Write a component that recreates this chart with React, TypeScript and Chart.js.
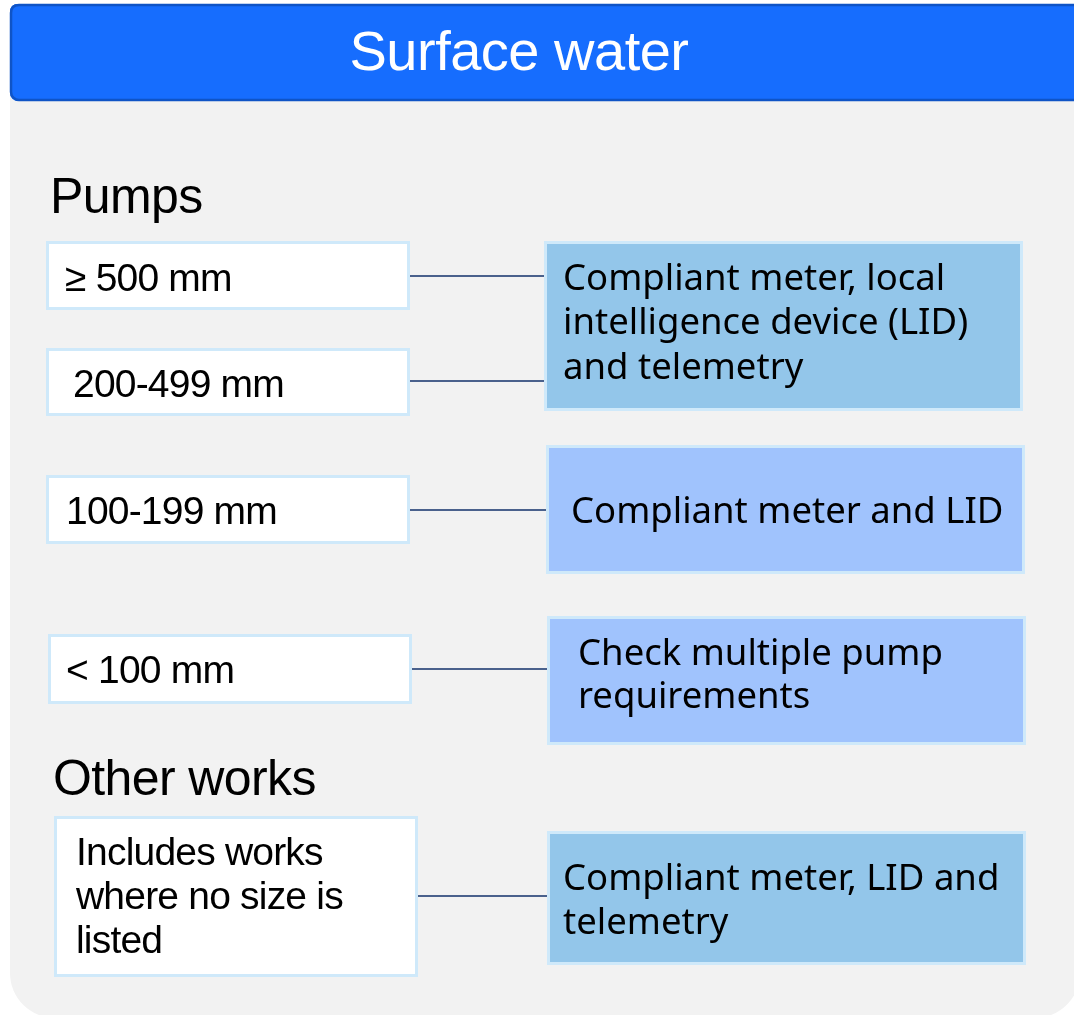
import React, { useEffect, useRef } from "react";
import { Chart, registerables } from "chart.js";

Chart.register(...registerables);

const W = 1074;
const H = 1015;

// ---- content ----
const title = "Surface water";
const sectionHeadings = ["Pumps", "Other works"];
const sizeClasses = [
  ["≥ 500 mm"],
  ["200-499 mm"],
  ["100-199 mm"],
  ["< 100 mm"],
  ["Includes works", "where no size is", "listed"],
];
const requirements = [
  ["Compliant meter, local", "intelligence device (LID)", "and telemetry"],
  ["Compliant meter and LID"],
  ["Check multiple pump", "requirements"],
  ["Compliant meter, LID and", "telemetry"],
];
const requirementKind = ["telemetry", "lid", "lid", "telemetry"];
// [size class index, requirement index]
const links = [
  [0, 0],
  [1, 0],
  [2, 1],
  [3, 2],
  [4, 3],
];

// ---- layout (pixel-space units on the hidden linear scales) ----
const headerBox = { x0: 10, y0: 4, x1: 1100, y1: 101, tx: 519, ty: 70 };
const panelBox = { x0: 10, y0: 50, x1: 1080, y1: 1018, r: 45 };
const headingPos = [
  { x: 50, y: 213 },
  { x: 53, y: 795 },
];
const sizeBoxes = [
  { x0: 46, y0: 241, x1: 410, y1: 310, tx: 65, ty: [291] },
  { x0: 46, y0: 348, x1: 410, y1: 416, tx: 73, ty: [397] },
  { x0: 46, y0: 475, x1: 410, y1: 544, tx: 66, ty: [524] },
  { x0: 48, y0: 634, x1: 412, y1: 704, tx: 66, ty: [683] },
  { x0: 54, y0: 816, x1: 418, y1: 977, tx: 76, ty: [865, 909, 953] },
];
const reqBoxes = [
  { x0: 544, y0: 241, x1: 1023, y1: 411, tx: 563, ty: [290, 334, 379] },
  { x0: 546, y0: 445, x1: 1025, y1: 574, tx: 571, ty: [523] },
  { x0: 547, y0: 616, x1: 1026, y1: 745, tx: 578, ty: [665, 708] },
  { x0: 547, y0: 831, x1: 1026, y1: 965, tx: 563, ty: [890, 934] },
];
const linkY = [276, 381, 510, 669, 896];

const COLORS = {
  panel: "#f2f2f2",
  header: "#166dfe",
  headerBorder: "#0f54c6",
  sizeFill: "#ffffff",
  boxBorder: "#cfe9fa",
  telemetry: "#93c6ea",
  lid: "#a0c3fd",
  connector: "#12306a",
  text: "#000000",
};

const FONT_LEFT = '"Liberation Sans", Arial, sans-serif';
const FONT_RIGHT = '"Noto Sans", "DejaVu Sans", sans-serif';

function roundRectPath(ctx: CanvasRenderingContext2D, x0: number, y0: number, x1: number, y1: number, rTop: number, rBottom: number) {
  ctx.beginPath();
  ctx.moveTo(x0 + rTop, y0);
  ctx.lineTo(x1 - rTop, y0);
  ctx.quadraticCurveTo(x1, y0, x1, y0 + rTop);
  ctx.lineTo(x1, y1 - rBottom);
  ctx.arcTo(x1, y1, x1 - rBottom, y1, rBottom);
  ctx.lineTo(x0 + rBottom, y1);
  ctx.arcTo(x0, y1, x0, y1 - rBottom, rBottom);
  ctx.lineTo(x0, y0 + rTop);
  ctx.quadraticCurveTo(x0, y0, x0 + rTop, y0);
  ctx.closePath();
}

const diagramPlugin = {
  id: "diagram",
  beforeDatasetsDraw(chart: any) {
    const ctx: CanvasRenderingContext2D = chart.ctx;
    const sx = chart.scales.x;
    const sy = chart.scales.y;
    const px = (v: number) => sx.getPixelForValue(v);
    const py = (v: number) => sy.getPixelForValue(v);
    ctx.save();
    // panel
    ctx.fillStyle = COLORS.panel;
    roundRectPath(ctx, px(panelBox.x0), py(panelBox.y0), px(panelBox.x1), py(panelBox.y1), 0, panelBox.r);
    ctx.fill();
    // header
    ctx.fillStyle = COLORS.header;
    roundRectPath(ctx, px(headerBox.x0), py(headerBox.y0), px(headerBox.x1), py(headerBox.y1), 8, 8);
    ctx.fill();
    ctx.strokeStyle = COLORS.headerBorder;
    ctx.lineWidth = 2.5;
    roundRectPath(ctx, px(headerBox.x0) + 1, py(headerBox.y0) + 1, px(headerBox.x1) - 1, py(headerBox.y1) - 1, 8, 8);
    ctx.stroke();
    // size boxes
    sizeBoxes.forEach((b) => {
      const x0 = px(b.x0), y0 = py(b.y0), x1 = px(b.x1), y1 = py(b.y1);
      ctx.fillStyle = COLORS.sizeFill;
      ctx.fillRect(x0, y0, x1 - x0, y1 - y0);
      ctx.strokeStyle = COLORS.boxBorder;
      ctx.lineWidth = 3;
      ctx.strokeRect(x0 + 1.5, y0 + 1.5, x1 - x0 - 3, y1 - y0 - 3);
    });
    // requirement boxes
    reqBoxes.forEach((b, i) => {
      const x0 = px(b.x0), y0 = py(b.y0), x1 = px(b.x1), y1 = py(b.y1);
      ctx.fillStyle = requirementKind[i] === "telemetry" ? COLORS.telemetry : COLORS.lid;
      ctx.fillRect(x0, y0, x1 - x0, y1 - y0);
      ctx.strokeStyle = COLORS.boxBorder;
      ctx.lineWidth = 3;
      ctx.strokeRect(x0 + 1.5, y0 + 1.5, x1 - x0 - 3, y1 - y0 - 3);
    });
    ctx.restore();
  },
  afterDatasetsDraw(chart: any) {
    const ctx: any = chart.ctx;
    const sx = chart.scales.x;
    const sy = chart.scales.y;
    const px = (v: number) => sx.getPixelForValue(v);
    const py = (v: number) => sy.getPixelForValue(v);
    ctx.save();
    ctx.textBaseline = "alphabetic";
    // title
    ctx.fillStyle = "#ffffff";
    ctx.textAlign = "center";
    ctx.font = `56px ${FONT_LEFT}`;
    ctx.letterSpacing = "-0.5px";
    ctx.fillText(title, px(headerBox.tx), py(headerBox.ty));
    // headings
    ctx.textAlign = "left";
    ctx.fillStyle = COLORS.text;
    ctx.font = `50px ${FONT_LEFT}`;
    ctx.letterSpacing = "-0.6px";
    sectionHeadings.forEach((h, i) => ctx.fillText(h, px(headingPos[i].x), py(headingPos[i].y)));
    // size class texts
    ctx.font = `39px ${FONT_LEFT}`;
    ctx.letterSpacing = "-0.8px";
    sizeClasses.forEach((lines, i) => {
      const b = sizeBoxes[i];
      lines.forEach((ln, j) => ctx.fillText(ln, px(b.tx), py(b.ty[j])));
    });
    // requirement texts
    ctx.font = `36.5px ${FONT_RIGHT}`;
    ctx.letterSpacing = "0px";
    requirements.forEach((lines, i) => {
      const b = reqBoxes[i];
      lines.forEach((ln, j) => ctx.fillText(ln, px(b.tx), py(b.ty[j])));
    });
    ctx.restore();
  },
};

export default function App() {
  const canvasRef = useRef<HTMLCanvasElement | null>(null);

  useEffect(() => {
    if (!canvasRef.current) return;
    const datasets = links.map(([s, r], i) => ({
      label: `link-${i}`,
      data: [
        { x: sizeBoxes[s].x1, y: linkY[i] },
        { x: reqBoxes[r].x0, y: linkY[i] },
      ],
      showLine: true,
      borderColor: COLORS.connector,
      borderWidth: 1.5,
      pointRadius: 0,
      fill: false,
    }));
    const chart = new Chart(canvasRef.current, {
      type: "scatter",
      data: { datasets },
      options: {
        animation: false,
        responsive: true,
        maintainAspectRatio: false,
        layout: { padding: 0 },
        events: [],
        scales: {
          x: { type: "linear", min: 0, max: W, display: false },
          y: { type: "linear", min: 0, max: H, reverse: true, display: false },
        },
        plugins: {
          legend: { display: false },
          tooltip: { enabled: false },
          title: { display: false },
        },
      },
      plugins: [diagramPlugin],
    } as any);
    return () => chart.destroy();
  }, []);

  return (
    <div style={{ position: "absolute", left: 0, top: 0, width: W, height: H, background: "#ffffff" }}>
      <canvas ref={canvasRef} />
    </div>
  );
}
